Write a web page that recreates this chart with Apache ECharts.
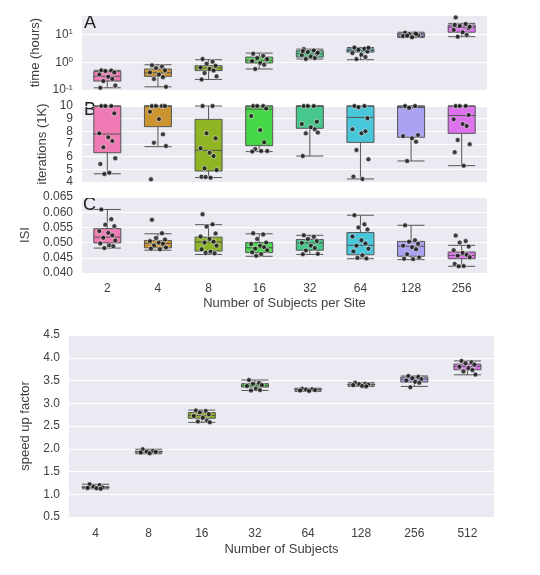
<!DOCTYPE html>
<html><head><meta charset="utf-8">
<script src="https://cdn.jsdelivr.net/npm/echarts@6/dist/echarts.min.js"></script>
<style>html,body{margin:0;padding:0;background:#fff}#c{width:540px;height:575px}</style>
</head><body><div id="c"></div><script>
const siteCats = ['2','4','8','16','32','64','128','256'];
const subjCats = ['4','8','16','32','64','128','256','512'];
const palette = ['#f07ab4','#cc9430','#8fb524','#46d846','#46c88c','#48c6da','#aaa2f2','#de72ee'];

// Panel A: time (hours), box stats [low, q1, median, q3, high]
const timeBoxes = [
  [0.12,0.21,0.31,0.47,0.51],[0.13,0.31,0.42,0.57,0.81],[0.24,0.50,0.62,0.75,1.23],[0.57,0.94,1.16,1.53,2.13],
  [1.30,1.53,2.01,2.58,2.96],[1.23,2.31,2.64,3.03,3.38],[7.7,8.34,9.6,11.0,12.0],[8.3,12.0,18.1,21.8,25]
];
const timePoints = [
  [0.51,0.50,0.48,0.43,0.36,0.30,0.25,0.21,0.145,0.12],
  [0.77,0.70,0.62,0.51,0.43,0.36,0.29,0.25,0.13],
  [1.30,1.04,0.88,0.75,0.65,0.57,0.50,0.41,0.31,0.24],
  [2.01,1.71,1.41,1.23,1.07,0.94,0.81,0.57,1.30,1.10],
  [2.96,2.64,2.31,2.01,1.81,1.61,1.41,1.30,2.20,2.50],
  [3.38,3.03,2.79,2.43,2.13,1.85,1.53,1.30,3.30],
  [11.6,11.0,10.2,9.4,8.8,7.9,10.5,9.0],
  [41,23.7,20.1,16.6,14.5,12.0,9.6,8.3,19,22]
];
// Panel B: iterations (1K)
const iterBoxes = [
  [4.65,6.31,7.79,10,10],[6.79,8.37,10,10,10],[4.35,4.87,6.5,8.95,10],[6.4,6.87,9.76,10,10],
  [6.05,8.24,10,10,10],[4.24,7.13,9.1,10,10],[5.66,7.53,9.88,10,10],[5.29,7.84,9.25,10,10]
];
const iterPoints = [
  [10,10,10,9.42,7.84,7.53,7.24,6.74,5.87,5.42,4.74,4.63],
  [10,10,10,10,9.55,8.97,7.76,7.1,6.84,4.21],
  [10,10,7.84,7.45,6.66,6.31,6.05,5.08,4.95,4.42,4.34,4.4],
  [10,10,10,9.8,9.21,8.1,7.13,6.6,6.45,6.4,6.45],
  [10,10,10,8.76,8.58,8.32,8.16,7.84,7.9,6.05],
  [10,10,9.9,9.03,8.16,7.84,8.0,6.53,5.79,4.42,4.24],
  [10,10,9.85,7.71,7.63,7.45,7.18,5.66],
  [10,10,10,9.29,8.95,8.58,8.42,7.32,6.98,6.35,5.29]
];
// Panel C: ISI
const isiBoxes = [
  [0.0482,0.0499,0.0518,0.0546,0.0609],[0.0475,0.0483,0.0497,0.0507,0.0529],[0.0461,0.0472,0.0502,0.0518,0.0559],
  [0.0455,0.0467,0.0483,0.0500,0.0529],[0.0461,0.0475,0.0499,0.0510,0.0524],[0.0447,0.0460,0.0491,0.0533,0.0590],
  [0.0444,0.0455,0.0488,0.0504,0.0557],[0.0422,0.0447,0.0458,0.0469,0.0491]
];
const isiPoints = [
  [0.0609,0.0577,0.0559,0.0554,0.0538,0.0532,0.0524,0.0516,0.0507,0.0497,0.0491,0.0482,0.0488],
  [0.0575,0.0531,0.0515,0.0510,0.0505,0.0500,0.0496,0.0490,0.0484,0.0480,0.0478],
  [0.0593,0.0560,0.0553,0.0530,0.0520,0.0512,0.0503,0.0500,0.0490,0.0478,0.0470,0.0466,0.0465],
  [0.0531,0.0527,0.0512,0.0500,0.0495,0.0490,0.0485,0.0480,0.0475,0.0468,0.0462,0.0457],
  [0.0524,0.0519,0.0512,0.0505,0.0499,0.0490,0.0482,0.0474,0.0463,0.0462],
  [0.0590,0.0560,0.0550,0.0543,0.0520,0.0508,0.0497,0.0490,0.0480,0.0471,0.0458,0.0450,0.0448],
  [0.0557,0.0508,0.0503,0.0496,0.0490,0.0485,0.0478,0.0462,0.0451,0.0447,0.0446],
  [0.0523,0.0505,0.0500,0.0487,0.0475,0.0466,0.0460,0.0457,0.0452,0.0430,0.0423,0.0422]
];
// Bottom panel: speed up factor
const speedBoxes = [
  [1.12,1.145,1.155,1.165,1.22],[1.89,1.925,1.935,1.945,1.99],[2.58,2.67,2.73,2.795,2.85],[3.28,3.355,3.39,3.43,3.51],
  [3.26,3.29,3.30,3.31,3.33],[3.37,3.40,3.41,3.42,3.45],[3.37,3.465,3.53,3.575,3.60],[3.625,3.735,3.81,3.86,3.93]
];
const speedPoints = [
  [1.22,1.20,1.17,1.15,1.14,1.13,1.12],
  [1.99,1.95,1.94,1.93,1.92,1.90],
  [2.84,2.83,2.80,2.76,2.72,2.68,2.62,2.60,2.58],
  [3.51,3.45,3.43,3.40,3.38,3.32,3.29,3.28],
  [3.32,3.31,3.30,3.29,3.28,3.27],
  [3.45,3.43,3.42,3.41,3.40,3.38,3.37],
  [3.60,3.58,3.55,3.53,3.50,3.47,3.45,3.35],
  [3.93,3.90,3.88,3.85,3.80,3.77,3.73,3.70,3.63]
];

const FONT = "'Liberation Sans', Arial, sans-serif";
const TXT = '#404040';
const BG = '#EAEAF2';
const jitter = [-6,4,-2,7,-8,1,5,-4,8,-7,2,-3,6];

function boxSeries(boxes, gi) {
  return {
    type: 'boxplot', xAxisIndex: gi, yAxisIndex: gi, boxWidth: [27, 27],
    data: boxes.map((b, i) => ({ value: b, itemStyle: { color: palette[i], borderColor: '#555555', borderWidth: 1 } })),
    emphasis: { disabled: true }, silent: true, z: 2
  };
}
function pointSeries(points, gi) {
  const data = [];
  points.forEach((arr, i) => arr.forEach((v, j) => data.push({ value: [i, v], symbolOffset: [jitter[j % jitter.length], 0] })));
  return {
    type: 'scatter', xAxisIndex: gi, yAxisIndex: gi, data, symbolSize: 5,
    itemStyle: { color: '#111', borderColor: '#fff', borderWidth: 0.7 }, silent: true, z: 5
  };
}
function xAxis(gi, cats, showLabels, name, margin, gap) {
  return {
    type: 'category', gridIndex: gi, data: cats,
    axisLine: { show: false }, axisTick: { show: false }, splitLine: { show: false },
    axisLabel: { show: showLabels, color: TXT, fontSize: 12, fontFamily: FONT, margin: margin || 9 },
    name: name || '', nameLocation: 'middle', nameGap: gap || 23,
    nameTextStyle: { color: TXT, fontSize: 13, fontFamily: FONT }
  };
}
function yAxisBase(gi, name, gap) {
  return {
    gridIndex: gi, name, nameLocation: 'middle', nameGap: gap,
    nameTextStyle: { color: TXT, fontSize: 13, fontFamily: FONT },
    axisLine: { show: false }, axisTick: { show: false },
    splitLine: { show: true, lineStyle: { color: '#fff', width: 1 } },
    axisLabel: { color: TXT, fontSize: 12, fontFamily: FONT, margin: 9 }
  };
}

const yA = Object.assign(yAxisBase(0, 'time (hours)', 40), {
  type: 'log', logBase: 10, min: 0.1, max: 50
});
yA.axisLabel = Object.assign({}, yA.axisLabel, {
  showMaxLabel: false,
  formatter: v => '{b|10}{e|' + Math.round(Math.log10(v)) + '}',
  rich: { b: { color: TXT, fontSize: 12, fontFamily: FONT }, e: { color: TXT, fontSize: 8, fontFamily: FONT, verticalAlign: 'top', padding: [0, 0, 5, 0] } }
});
const yB = Object.assign(yAxisBase(1, 'iterations (1K)', 30), { type: 'value', min: 4, max: 10, interval: 1 });
const yC = Object.assign(yAxisBase(2, 'ISI', 44), { type: 'value', min: 0.040, max: 0.065, interval: 0.005 });
yC.axisLabel = Object.assign({}, yC.axisLabel, { formatter: v => v.toFixed(3) });
const yD = Object.assign(yAxisBase(3, 'speed up factor', 29), { type: 'value', min: 0.5, max: 4.5, interval: 0.5 });
yD.axisLabel = Object.assign({}, yD.axisLabel, { formatter: v => v.toFixed(1) });

const gridStyle = { show: true, backgroundColor: BG, borderWidth: 0, containLabel: false };
const option = {
  animation: false,
  backgroundColor: '#fff',
  textStyle: { fontFamily: FONT },
  grid: [
    Object.assign({ left: 82, width: 405, top: 15, height: 75 }, gridStyle),
    Object.assign({ left: 82, width: 405, top: 106, height: 76 }, gridStyle),
    Object.assign({ left: 82, width: 405, top: 197, height: 76 }, gridStyle),
    Object.assign({ left: 69, width: 425, top: 335, height: 182 }, gridStyle)
  ],
  xAxis: [
    xAxis(0, siteCats, false), xAxis(1, siteCats, false),
    xAxis(2, siteCats, true, 'Number of Subjects per Site', 10, 24),
    xAxis(3, subjCats, true, 'Number of Subjects', 11, 26)
  ],
  yAxis: [yA, yB, yC, yD],
  graphic: [
    { type: 'text', left: 84, top: 14, style: { text: 'A', fontSize: 18, fill: '#222', fontFamily: FONT } },
    { type: 'text', left: 84, top: 101, style: { text: 'B', fontSize: 18, fill: '#222', fontFamily: FONT } },
    { type: 'text', left: 83, top: 196, style: { text: 'C', fontSize: 18, fill: '#222', fontFamily: FONT } }
  ],
  series: [
    boxSeries(timeBoxes, 0), pointSeries(timePoints, 0),
    boxSeries(iterBoxes, 1), pointSeries(iterPoints, 1),
    boxSeries(isiBoxes, 2), pointSeries(isiPoints, 2),
    boxSeries(speedBoxes, 3), pointSeries(speedPoints, 3)
  ]
};
const chart = echarts.init(document.getElementById('c'), null, { renderer: 'canvas' });
chart.setOption(option);
</script></body></html>
